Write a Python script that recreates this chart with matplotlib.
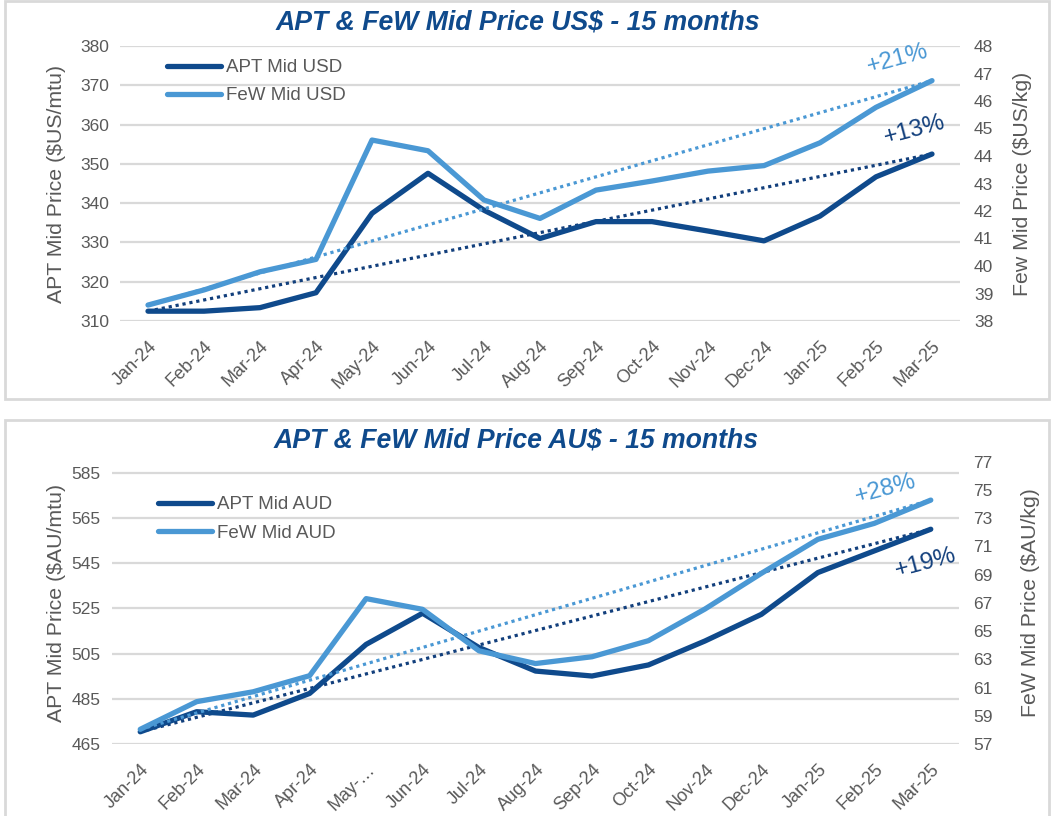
import matplotlib
matplotlib.use("Agg")
import matplotlib.pyplot as plt
from matplotlib.patches import Rectangle
import numpy as np

plt.rcParams['font.family'] = ['Liberation Sans', 'DejaVu Sans']

# data
months_usd = ['Jan-24', 'Feb-24', 'Mar-24', 'Apr-24', 'May-24', 'Jun-24', 'Jul-24', 'Aug-24',
              'Sep-24', 'Oct-24', 'Nov-24', 'Dec-24', 'Jan-25', 'Feb-25', 'Mar-25']
months_aud = ['Jan-24', 'Feb-24', 'Mar-24', 'Apr-24', 'May-…', 'Jun-24', 'Jul-24', 'Aug-24',
              'Sep-24', 'Oct-24', 'Nov-24', 'Dec-24', 'Jan-25', 'Feb-25', 'Mar-25']

apt_usd = [312.5, 312.5, 313.4, 317.2, 337.4, 347.6, 338.2, 331.0,
           335.3, 335.3, 332.9, 330.4, 336.7, 346.7, 352.5]
few_usd = [38.58, 39.13, 39.79, 40.24, 44.58, 44.19, 42.40, 41.73,
           42.76, 43.09, 43.45, 43.65, 44.48, 45.77, 46.74]

apt_aud = [470.4, 479.3, 477.8, 487.4, 509.1, 522.9, 507.7, 497.3,
           495.1, 500.0, 510.6, 522.4, 540.9, 550.5, 560.1]
few_aud = [58.04, 60.0, 60.7, 61.84, 67.3, 66.54, 63.6, 62.7,
           63.18, 64.32, 66.56, 69.09, 71.5, 72.63, 74.28]

DARK = '#0F4A8C'
LIGHT = '#4A98D4'
DARK_TREND = '#123F7C'
GRID = '#D9D9D9'
TXT = '#595959'
TITLE = '#0F4A8C'

fig = plt.figure(figsize=(10.53, 8.16), dpi=100)

# panel borders
for (x0, y0, w, h) in [(5/1053, 1 - 399/816, 1044/1053, 398/816),
                       (5/1053, -0.01, 1044/1053, 1 - 420/816 + 0.01)]:
    fig.add_artist(Rectangle((x0, y0), w, h, transform=fig.transFigure,
                             facecolor='none', edgecolor=GRID, lw=2))


def panel(rect, months, apt, few, ylim1, yticks1, ylim2, yticks2,
          title, title_xy, ylab1, ylab2, leg_labels, leg_anchor,
          pct_few, pct_few_xy, pct_apt, pct_apt_xy, ylab1_x, ylab2_x):
    ax = fig.add_axes(rect)
    ax2 = ax.twinx()
    x = np.arange(len(months))

    ax.set_xlim(-0.5, len(months) - 0.5)
    ax.set_ylim(*ylim1)
    ax.set_yticks(yticks1)
    ax2.set_ylim(*ylim2)
    ax2.set_yticks(yticks2)

    ax.grid(axis='y', color=GRID, lw=1.6)
    ax.set_axisbelow(True)
    for a in (ax, ax2):
        for s in a.spines.values():
            s.set_visible(False)
        a.tick_params(length=0, labelsize=12.5, colors=TXT)
    ax.tick_params(axis='y', pad=8)
    ax2.tick_params(axis='y', pad=10)

    ax.set_xticks(x)
    ax.set_xticklabels(months, rotation=45, ha='right', rotation_mode='anchor', fontsize=13)
    ax.tick_params(axis='x', pad=12)

    # trend lines, first to last month
    ends = np.array([x[0], x[-1]])
    ax.plot(ends, [apt[0], apt[-1]], color=DARK_TREND, lw=2.3, ls=(0, (1, 1.2)))
    ax2.plot(ends, [few[0], few[-1]], color=LIGHT, lw=2.3, ls=(0, (1, 1.2)))

    l1, = ax.plot(x, apt, color=DARK, lw=3.8, solid_capstyle='round', solid_joinstyle='round')
    l2, = ax2.plot(x, few, color=LIGHT, lw=3.8, solid_capstyle='round', solid_joinstyle='round')

    ax2.legend([l1, l2], leg_labels, loc='upper left', bbox_to_anchor=leg_anchor,
               bbox_transform=fig.transFigure, frameon=False, fontsize=13.5,
               handlelength=2.9, handletextpad=0.25, labelspacing=0.6,
               labelcolor=TXT, borderaxespad=0, borderpad=0)

    fig.text(title_xy[0], title_xy[1], title, ha='center', va='center', fontsize=19.2,
             fontweight='bold', fontstyle='italic', color=TITLE)
    fig.text(ylab1_x, rect[1] + rect[3] / 2, ylab1, rotation=90, ha='center',
             va='center', fontsize=15.3, color=TXT)
    fig.text(ylab2_x, rect[1] + rect[3] / 2, ylab2, rotation=90, ha='center',
             va='center', fontsize=15.3, color=TXT)

    fig.text(pct_few_xy[0], pct_few_xy[1], pct_few, ha='center', va='center',
             fontsize=17.5, color=LIGHT, rotation=15)
    fig.text(pct_apt_xy[0], pct_apt_xy[1], pct_apt, ha='center', va='center',
             fontsize=17.5, color=DARK_TREND, rotation=15)


W, H = 1053, 816

panel([120/W, 1 - 321/H, 840/W, 275/H], months_usd, apt_usd, few_usd,
      (310, 380), np.arange(310, 381, 10), (38, 48), np.arange(38, 49, 1),
      'APT & FeW Mid Price US$ - 15 months', (518/W, 1 - 22/H),
      'APT Mid Price ($US/mtu)', 'Few Mid Price ($US/kg)',
      ['APT Mid USD', 'FeW Mid USD'], (167/W, 1 - 59/H),
      '+21%', (898/W, 1 - 59/H), '+13%', (915/W, 1 - 130/H),
      57/W, 1022/W)

panel([112/W, 1 - 744/H, 847/W, 282.3/H], months_aud, apt_aud, few_aud,
      (465, 590), np.arange(465, 586, 20), (57, 77), np.arange(57, 78, 2),
      'APT & FeW Mid Price AU$ - 15 months', (516/W, 1 - 441/H),
      'APT Mid Price ($AU/mtu)', 'FeW Mid Price ($AU/kg)',
      ['APT Mid AUD', 'FeW Mid AUD'], (158/W, 1 - 496/H),
      '+28%', (886/W, 1 - 489/H), '+19%', (926/W, 1 - 563/H),
      57/W, 1030/W)

fig.savefig('out.png', dpi=100)
